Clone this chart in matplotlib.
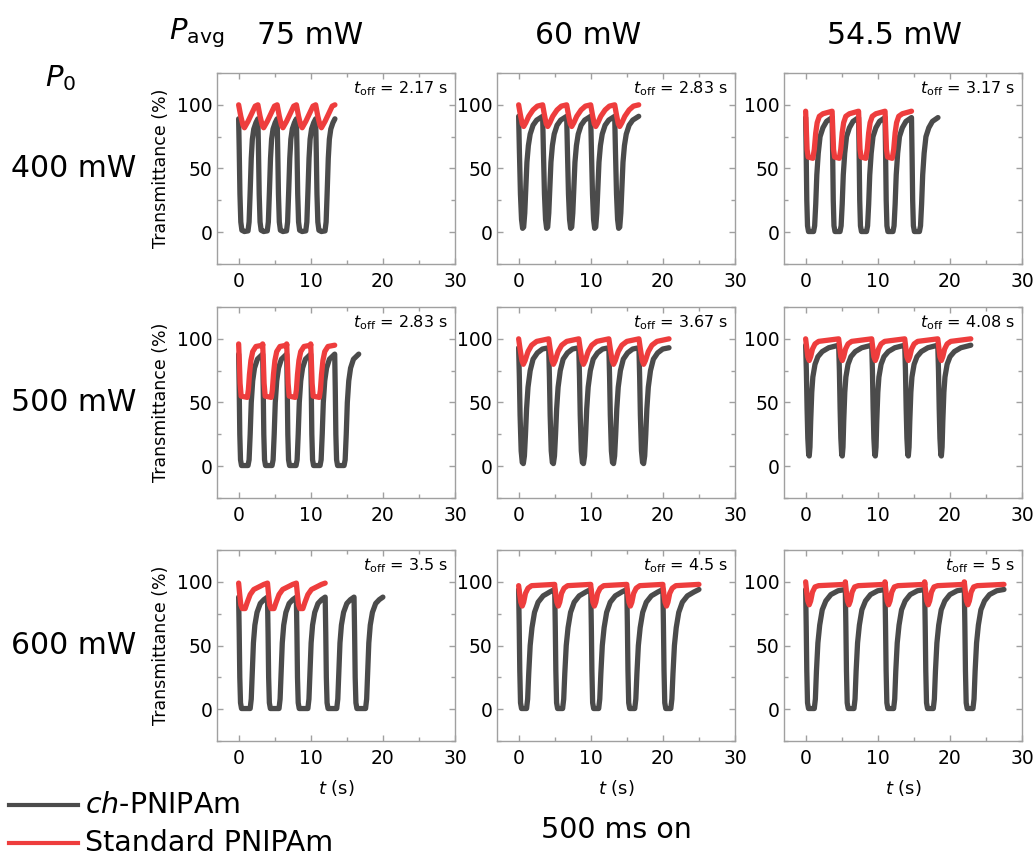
import numpy as np
import matplotlib
matplotlib.use('Agg')
import matplotlib.pyplot as plt
from matplotlib.lines import Line2D
from matplotlib.ticker import MultipleLocator

plt.rcParams['font.family'] = 'DejaVu Sans'
plt.rcParams['mathtext.fontset'] = 'dejavusans'

# panel order: rows = P0 (400, 500, 600 mW), columns = Pavg (75, 60, 54.5 mW)
p0_labels = ['400 mW', '500 mW', '600 mW']
pavg_labels = ['75 mW', '60 mW', '54.5 mW']
t_on = 0.5
t_off = [2.17, 2.83, 3.17, 2.83, 3.67, 4.08, 3.5, 4.5, 5.0]
t_off_text = ['2.17', '2.83', '3.17', '2.83', '3.67', '4.08', '3.5', '4.5', '5']
n_gray = [5, 5, 5, 5, 5, 5, 5, 5, 5]
n_red = [5, 5, 4, 4, 5, 5, 3, 5, 5]

# one switching cycle of ch-PNIPAm (s from pulse start, %)
gray_t = [
    [0, 0.08, 0.18, 0.3, 0.45, 0.8, 1.3, 1.45, 1.6, 1.75, 1.9, 2.1, 2.4, 2.67],
    [0, 0.1, 0.25, 0.4, 0.55, 0.7, 0.85, 1.0, 1.15, 1.35, 1.6, 2.0, 2.5, 3.33],
    [0, 0.08, 0.16, 0.26, 0.4, 1.1, 1.25, 1.4, 1.55, 1.75, 2.0, 2.4, 2.9, 3.67],
    [0, 0.08, 0.16, 0.26, 0.4, 1.3, 1.45, 1.6, 1.75, 1.95, 2.2, 2.6, 3.33],
    [0, 0.1, 0.2, 0.35, 0.5, 0.65, 0.8, 0.95, 1.1, 1.3, 1.6, 2.0, 2.6, 3.3, 4.17],
    [0, 0.1, 0.2, 0.3, 0.42, 0.5, 0.6, 0.7, 0.85, 1.0, 1.3, 1.7, 2.3, 3.2, 4.58],
    [0, 0.08, 0.16, 0.26, 0.4, 1.6, 1.75, 1.9, 2.05, 2.25, 2.55, 3.0, 3.5, 4.0],
    [0, 0.08, 0.16, 0.26, 0.4, 1.1, 1.25, 1.4, 1.6, 1.85, 2.2, 2.7, 3.4, 4.3, 5.0],
    [0, 0.08, 0.16, 0.26, 0.4, 1.2, 1.35, 1.5, 1.7, 1.95, 2.3, 2.8, 3.5, 4.5, 5.5],
]
gray_T = [
    [89, 65, 30, 8, 1.5, 0.5, 1, 8, 32, 58, 73, 81, 86, 89],
    [91, 65, 30, 10, 3, 4, 15, 35, 55, 68, 77, 84, 88, 91],
    [90, 60, 25, 5, 0.5, 0.5, 5, 22, 45, 62, 75, 82, 87, 90],
    [88, 60, 25, 5, 0.5, 0.5, 5, 25, 50, 67, 77, 84, 88],
    [93, 70, 40, 12, 3, 2, 8, 25, 45, 62, 75, 84, 89, 92, 93],
    [95, 75, 45, 22, 9, 8, 15, 35, 58, 70, 80, 86, 90, 93, 95],
    [88, 60, 25, 5, 0.5, 0.5, 8, 30, 52, 66, 76, 83, 86, 88],
    [94, 65, 30, 5, 0.5, 0.5, 8, 28, 50, 64, 76, 84, 89, 92, 94],
    [94, 65, 30, 5, 0.5, 0.5, 8, 30, 52, 66, 78, 85, 90, 93, 94],
]

# one switching cycle of standard PNIPAm
red_t = [
    [0, 0.3, 0.6, 0.8, 1.3, 1.8, 2.3, 2.67],
    [0, 0.25, 0.5, 0.7, 1.0, 1.4, 2.0, 2.6, 3.33],
    [0, 0.1, 0.2, 0.35, 1.0, 1.2, 1.4, 1.6, 1.9, 2.4, 3.67],
    [0, 0.1, 0.2, 0.35, 1.2, 1.35, 1.5, 1.7, 1.95, 2.4, 3.33],
    [0, 0.2, 0.45, 0.65, 0.9, 1.3, 1.8, 2.5, 4.17],
    [0, 0.15, 0.3, 0.5, 0.7, 0.95, 1.3, 1.8, 4.58],
    [0, 0.15, 0.3, 0.5, 0.9, 1.2, 1.6, 2.1, 2.8, 3.5, 4.0],
    [0, 0.15, 0.3, 0.5, 0.7, 0.95, 1.3, 1.8, 5.0],
    [0, 0.15, 0.3, 0.5, 0.7, 0.95, 1.3, 1.8, 5.5],
]
red_T = [
    [100, 91, 84, 82, 87, 93, 99, 100],
    [100, 92, 85, 83, 86, 91, 96, 99, 100],
    [95, 80, 65, 59, 58, 65, 78, 86, 91, 93, 95],
    [96, 82, 65, 55, 54, 60, 72, 83, 90, 94, 95],
    [100, 92, 83, 80, 83, 90, 95, 98, 100],
    [100, 93, 86, 83, 86, 92, 96, 98, 100],
    [99, 90, 82, 79, 79, 84, 90, 94, 96, 98, 99],
    [97, 90, 84, 81, 84, 91, 95, 97, 98],
    [100, 92, 85, 82, 85, 92, 96, 97, 98],
]

gray_color = '#4b4b4b'
red_color = '#ee3d3d'
spine_color = '#a0a0a0'

W, H = 1036, 856
fig = plt.figure(figsize=(W / 100, H / 100), dpi=100)

col_left = [217, 497, 784]
row_bottom = [264, 498, 741]
ax_w, ax_h = 238, 191

for i in range(9):
    r, c = divmod(i, 3)
    ax = fig.add_axes([col_left[c] / W, 1 - row_bottom[r] / H, ax_w / W, ax_h / H])
    period = t_off[i] + t_on

    tg = np.concatenate([k * period + np.array(gray_t[i]) for k in range(n_gray[i])])
    Tg = np.tile(gray_T[i], n_gray[i])
    tr = np.concatenate([k * period + np.array(red_t[i]) for k in range(n_red[i])])
    Tr = np.tile(red_T[i], n_red[i])
    ax.plot(tg, Tg, color=gray_color, lw=3.8, solid_joinstyle='round', solid_capstyle='round')
    ax.plot(tr, Tr, color=red_color, lw=3.8, solid_joinstyle='round', solid_capstyle='round')

    ax.set_xlim(-3, 30)
    ax.set_ylim(-25, 125)
    ax.xaxis.set_major_locator(MultipleLocator(10))
    ax.xaxis.set_minor_locator(MultipleLocator(5))
    ax.yaxis.set_major_locator(MultipleLocator(50))
    ax.yaxis.set_minor_locator(MultipleLocator(25))
    ax.tick_params(which='both', direction='in', top=True, right=True,
                   color=spine_color, width=1)
    ax.tick_params(which='major', length=4, labelsize=13.5)
    ax.tick_params(which='minor', length=3)
    ax.tick_params(axis='x', pad=6)
    for s in ax.spines.values():
        s.set_color(spine_color)
        s.set_linewidth(1)

    ax.text(0.97, 0.92, r'$t_{\rm off}$ = ' + t_off_text[i] + ' s', transform=ax.transAxes,
            ha='right', va='center', fontsize=11.5)

    if c == 0:
        ax.set_ylabel('Transmittance (%)', fontsize=12.5, labelpad=5)
        fig.text(74 / W, 1 - (row_bottom[r] - ax_h / 2) / H, p0_labels[r],
                 ha='center', va='center', fontsize=21.5)
    if r == 2:
        ax.set_xlabel(r'$t$ (s)', fontsize=13, labelpad=7)

# column headers
header_x = [310, 588, 894]
for c in range(3):
    fig.text(header_x[c] / W, 1 - 35 / H, pavg_labels[c], ha='center', va='center', fontsize=21.5)
fig.text(197 / W, 1 - 33 / H, r'$P_{\rm avg}$', ha='center', va='center', fontsize=21)
fig.text(61 / W, 1 - 78 / H, r'$P_0$', ha='center', va='center', fontsize=21)

fig.text(616 / W, 1 - 830 / H, '500 ms on', ha='center', va='center', fontsize=20.5)

# legend
fig.add_artist(Line2D([9 / W, 78 / W], [1 - 805 / H, 1 - 805 / H], color=gray_color, lw=3))
fig.add_artist(Line2D([9 / W, 78 / W], [1 - 843 / H, 1 - 843 / H], color=red_color, lw=3))
fig.text(85 / W, 1 - 805 / H, r'$ch$-PNIPAm', ha='left', va='center', fontsize=20.5)
fig.text(85 / W, 1 - 843 / H, 'Standard PNIPAm', ha='left', va='center', fontsize=20.5)

fig.savefig('out.png', dpi=100)
